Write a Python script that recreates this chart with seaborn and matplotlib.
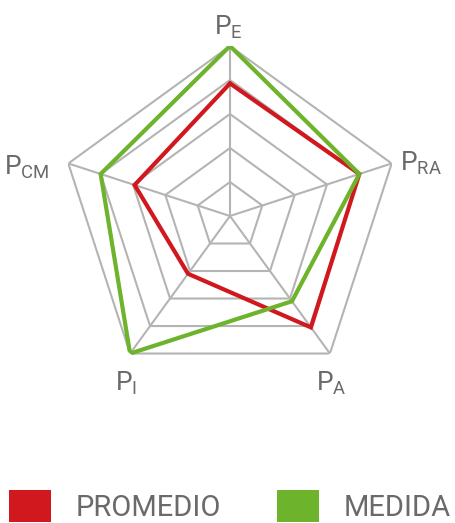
import numpy as np
import pandas as pd
import matplotlib
matplotlib.use("Agg")
import matplotlib.pyplot as plt
import seaborn as sns
from matplotlib.patches import Patch

# datos (escala 0-5)
ejes = ["E", "RA", "A", "I", "CM"]
promedio = [3.9, 4.0, 4.05, 2.1, 2.95]
medida = [5.0, 4.0, 3.1, 5.0, 4.0]
niveles = [1, 2, 3, 4, 5]
series = ["PROMEDIO", "MEDIDA"]

ROJO = "#d0181e"
VERDE = "#6db32c"
GRIS = "#b4b4b4"
TEXTO = "#6a6a6a"

sns.set_theme(style="white")
fuente = "Roboto"
plt.rcParams["font.family"] = [fuente, "DejaVu Sans"]
plt.rcParams["mathtext.fontset"] = "custom"
plt.rcParams["mathtext.rm"] = fuente
plt.rcParams["mathtext.it"] = fuente

fig = plt.figure(figsize=(4.56, 5.23), dpi=100)
ax = fig.add_axes([60 / 456, 137 / 523, 340 / 456, 340 / 523], projection="polar")
ax.set_theta_offset(np.pi / 2)
ax.set_theta_direction(-1)
ax.set_ylim(0, 5)
ax.grid(False)
ax.spines["polar"].set_visible(False)
ax.set_xticks([])
ax.set_yticks([])

angulos = np.linspace(0, 2 * np.pi, len(ejes), endpoint=False)
cerrado = np.append(angulos, angulos[0])

# rejilla pentagonal
for n in niveles:
    ax.plot(cerrado, [n] * len(cerrado), color=GRIS, lw=1.5, solid_joinstyle="miter", zorder=1)
for a in angulos:
    ax.plot([a, a], [0, niveles[-1]], color=GRIS, lw=1.5, zorder=1)

# series
for nombre, vals, col in [("PROMEDIO", promedio, ROJO), ("MEDIDA", medida, VERDE)]:
    df = pd.DataFrame({"ang": cerrado, "val": vals + vals[:1]})
    sns.lineplot(data=df, x="ang", y="val", sort=False, estimator=None, color=col,
                 lw=3.0, ax=ax, zorder=3)
    ax.lines[-1].set_solid_joinstyle("miter")
ax.set_xlabel("")
ax.set_ylabel("")

# etiquetas de los ejes
desplaz = [(-2, 19), (29, 0), (1, -30), (-4, -30), (-42, -4)]
for a, et, d in zip(angulos, ejes, desplaz):
    ax.annotate(r"P$_{\mathrm{%s}}$" % et, xy=(a, 5), xytext=d, textcoords="offset pixels",
                ha="center", va="center", fontsize=19, color=TEXTO)

handles = [Patch(facecolor=ROJO, edgecolor="none"), Patch(facecolor=VERDE, edgecolor="none")]
fig.legend(handles, series, loc="lower left", bbox_to_anchor=(9 / 456, 1 / 523), ncol=2,
           frameon=False, fontsize=21, labelcolor=TEXTO, handlelength=1.45, handleheight=1.3,
           handletextpad=0.85, columnspacing=1.9, borderpad=0, borderaxespad=0)

fig.savefig("out.png", dpi=100, facecolor="white")
